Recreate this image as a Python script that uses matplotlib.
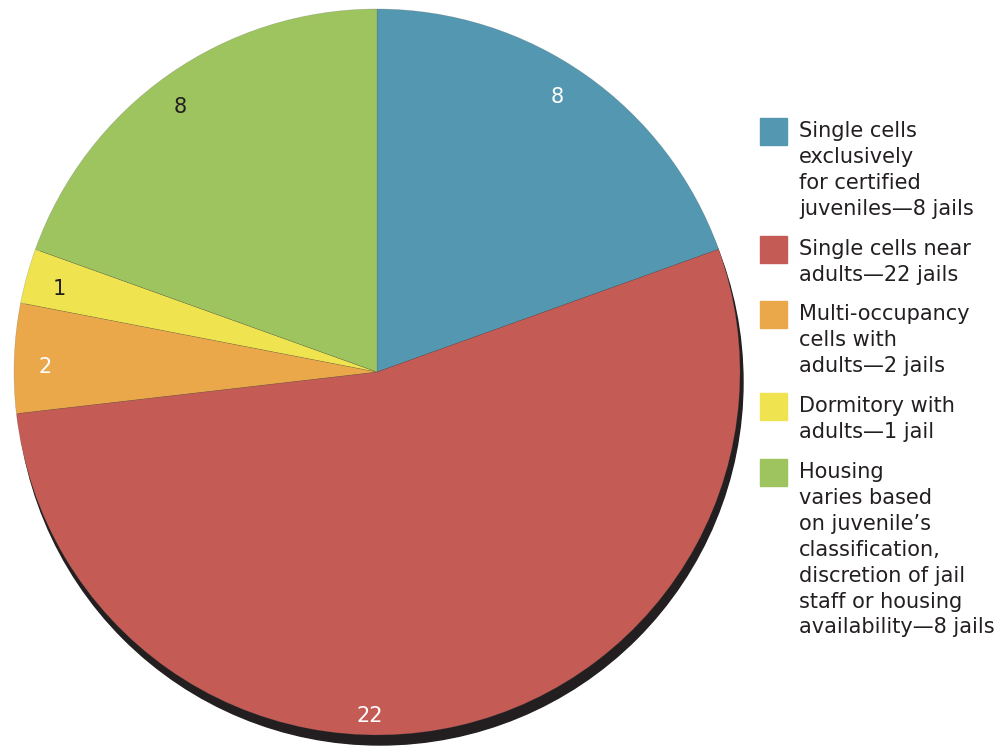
import matplotlib
matplotlib.use("Agg")
import matplotlib.pyplot as plt
from matplotlib.patches import Circle, Rectangle
import numpy as np

categories = [
    "Single cells\nexclusively\nfor certified\njuveniles\u20148 jails",
    "Single cells near\nadults\u201422 jails",
    "Multi-occupancy\ncells with\nadults\u20142 jails",
    "Dormitory with\nadults\u20141 jail",
    "Housing\nvaries based\non juvenile\u2019s\nclassification,\ndiscretion of jail\nstaff or housing\navailability\u20148 jails",
]
values = [8, 22, 2, 1, 8]
colors = ["#5497b0", "#c45c55", "#eba84b", "#f0e350", "#9dc45f"]
label_colors = ["white", "white", "white", "#231f20", "#231f20"]
# label placement: (radius fraction, angle offset in degrees from slice middle)
label_place = [(0.905, 1.9), (0.948, -14.4), (0.915, 1.3), (0.905, 0.7), (0.91, 1.5)]

W, H = 1000, 752
fig = plt.figure(figsize=(W / 100, H / 100), dpi=100)
ax = fig.add_axes([0, 0, 1, 1])

cx, cy, R = 377, H - 372, 363
shadow = Circle((cx + 3, cy - 10), R, color="#231f20", zorder=0)
ax.add_patch(shadow)

wedges, _ = ax.pie(values, colors=colors, startangle=90, counterclock=False,
                   center=(cx, cy), radius=R, frame=True,
                   wedgeprops=dict(linewidth=0.4, edgecolor=(0.3, 0.3, 0.3, 0.3)))
ax.set_xlim(0, W)
ax.set_ylim(0, H)
ax.set_aspect("equal")
ax.axis("off")

for w, v, lc, (rf, off) in zip(wedges, values, label_colors, label_place):
    mid = np.deg2rad((w.theta1 + w.theta2) / 2 + off)
    ax.text(cx + rf * R * np.cos(mid), cy + rf * R * np.sin(mid), str(v),
            color=lc, fontsize=15, ha="center", va="center", family="DejaVu Sans")

# legend
line_h = 25.9
gap = 14
top = 118
sq = 27
for cat, col in zip(categories, colors):
    n = cat.count("\n") + 1
    ax.add_patch(Rectangle((760, H - top - sq), sq, sq, color=col))
    ax.text(799, H - top - 3, cat, fontsize=15, color="#231f20", va="top", ha="left",
            linespacing=1.37, family="DejaVu Sans")
    top += n * line_h + gap

fig.savefig("out.png", dpi=100)
